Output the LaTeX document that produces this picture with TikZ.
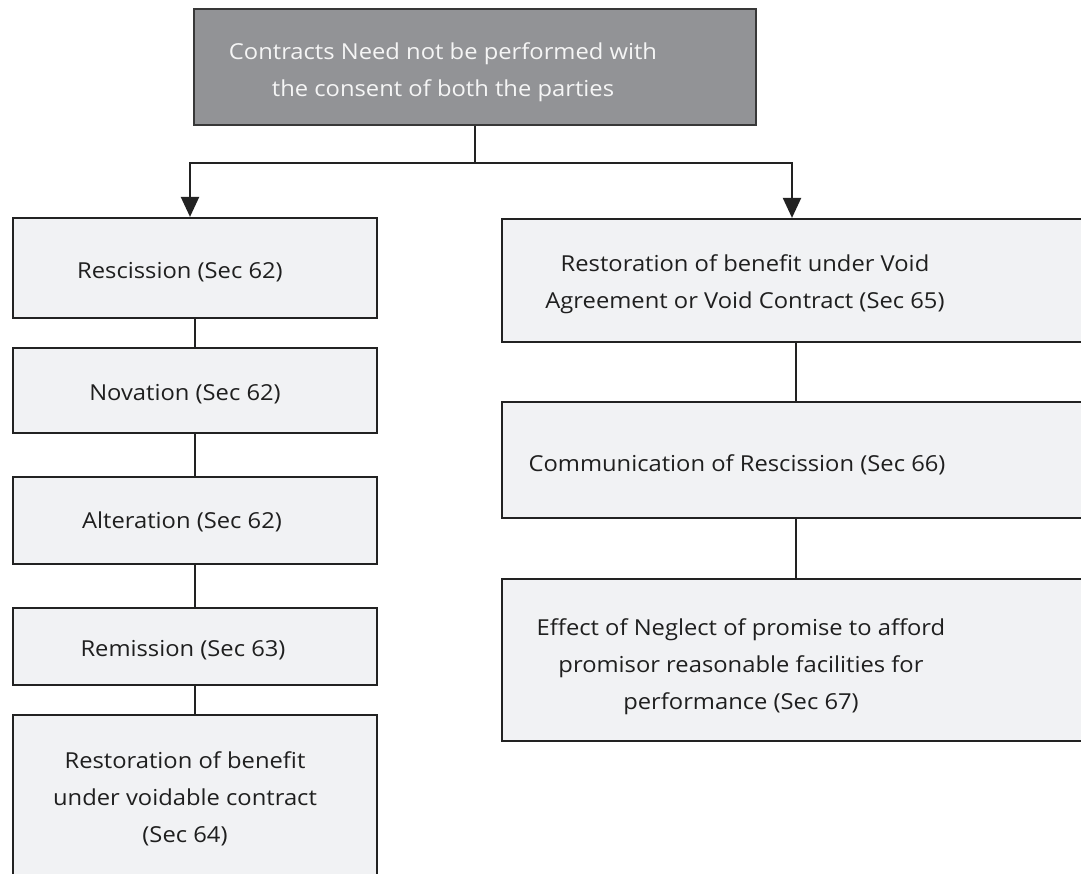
\documentclass[tikz,border=0pt]{standalone}
\usepackage{fontspec}
\setmainfont{Open Sans}[FakeStretch=1.08]
\usetikzlibrary{arrows.meta}
\definecolor{headfill}{HTML}{929396}
\definecolor{boxfill}{HTML}{F1F2F4}
\definecolor{edge}{HTML}{222222}
\tikzset{
  box/.style={draw=edge, fill=boxfill, line width=2.2pt, inner sep=0pt, rectangle},
  headbox/.style={box, fill=headfill, draw=edge!90},
  txt/.style={align=center, font=\fontsize{22}{37}\selectfont, text=black!88, inner sep=0pt},
  headtxt/.style={txt, text=white!96!black},
  link/.style={draw=edge, line width=2.2pt},
  arr/.style={link, -{Triangle[length=20pt,width=18pt]}}
}
\begin{document}
\begin{tikzpicture}[x=1pt,y=-1pt]
\useasboundingbox (0,0) rectangle (1081,873);
\clip (0,0) rectangle (1081,873);

% heading box
\node[headbox, minimum width=562pt, minimum height=116pt] (top) at (475,67) {};
\node[headtxt] (toptxt) at (443,72) {Contracts Need not be performed with\\the consent of both the parties};

% left column
\node[box, minimum width=364pt, minimum height=100pt] (l1) at (195,268) {};
\node[box, minimum width=364pt, minimum height=85pt]  (l2) at (195,390.5) {};
\node[box, minimum width=364pt, minimum height=87pt]  (l3) at (195,520.5) {};
\node[box, minimum width=364pt, minimum height=77pt]  (l4) at (195,646.5) {};
\node[box, minimum width=364pt, minimum height=190pt] (l5) at (195,810) {};

\node[txt] (t1) at (180,272) {Rescission (Sec 62)};
\node[txt] (t2) at (185,394) {Novation (Sec 62)};
\node[txt] (t3) at (182,522) {Alteration (Sec 62)};
\node[txt] (t4) at (183,650) {Remission (Sec 63)};
\node[txt] (t5) at (185,799) {Restoration of benefit\\under voidable contract\\(Sec 64)};

% right column (runs past the right margin)
\node[box, minimum width=600pt, minimum height=123pt] (r1) at (802,280.5) {};
\node[box, minimum width=600pt, minimum height=116pt] (r2) at (802,460) {};
\node[box, minimum width=600pt, minimum height=162pt] (r3) at (802,660) {};

\node[txt] (s1) at (745,284) {Restoration of benefit under Void\\Agreement or Void Contract (Sec 65)};
\node[txt] (s2) at (737,465) {Communication of Rescission (Sec 66)};
\node[txt] (s3) at (741,667) {Effect of Neglect of promise to afford\\promisor reasonable facilities for\\performance (Sec 67)};

% connectors
\coordinate (split) at (475,163);
\coordinate (la) at (190,0);
\coordinate (ra) at (792,0);
\coordinate (rc) at (796,0);
\draw[link] (top.south) -- (split);
\draw[arr] (split) -| (l1.north -| la);
\draw[arr] (split) -| (r1.north -| ra);

\draw[link] (l1.south) -- (l2.north);
\draw[link] (l2.south) -- (l3.north);
\draw[link] (l3.south) -- (l4.north);
\draw[link] (l4.south) -- (l5.north);

\draw[link] (r1.south -| rc) -- (r2.north -| rc);
\draw[link] (r2.south -| rc) -- (r3.north -| rc);
\end{tikzpicture}
\end{document}
